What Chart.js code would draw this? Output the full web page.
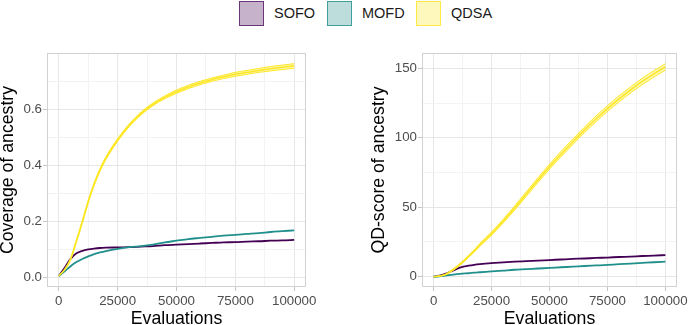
<!DOCTYPE html>
<html>
<head>
<meta charset="utf-8">
<script src="https://cdn.jsdelivr.net/npm/chart.js@4.4.0/dist/chart.umd.min.js"></script>
<style>
    body { margin: 0; width: 692px; height: 325px; overflow: hidden; background: #fff; position: relative; font-family: "Liberation Sans", Arial, sans-serif; }
    .key { position: absolute; top: 1px; width: 23px; height: 23px; border: 1.5px solid; }
    .lbl { position: absolute; top: 6px; font-size: 14.5px; line-height: 14.5px; color: #1a1a1a; }
    canvas { position: absolute; top: 40px; }
</style>
</head>
<body>
<div class="key" style="left:239px; background:rgba(68,1,84,0.3); border-color:rgba(68,1,84,0.7);"></div>
<div class="lbl" style="left:274px;">SOFO</div>
<div class="key" style="left:327px; background:rgba(33,144,140,0.3); border-color:rgba(33,144,140,0.8);"></div>
<div class="lbl" style="left:362px;">MOFD</div>
<div class="key" style="left:416px; background:rgba(253,231,37,0.3); border-color:rgba(253,231,37,0.8);"></div>
<div class="lbl" style="left:451px;">QDSA</div>

<canvas id="coverage_chart" width="346" height="285" style="left:0px;"></canvas>
<canvas id="qd_chart" width="346" height="285" style="left:346px;"></canvas>

<script>
    // x axis, shared by both panels
    var evaluations = [0, 2500, 5000, 7500, 10000, 12500, 15000, 17500, 20000, 25000, 30000, 35000, 40000, 45000, 50000, 55000, 60000, 65000, 70000, 75000, 80000, 85000, 90000, 95000, 100000];

    // Coverage of ancestry
    var coverage_sofo = [0.005, 0.035, 0.066, 0.086, 0.095, 0.100, 0.103, 0.105, 0.106, 0.107, 0.108, 0.110, 0.112, 0.115, 0.117, 0.119, 0.121, 0.123, 0.125, 0.126, 0.128, 0.129, 0.131, 0.132, 0.134];
    var coverage_mofd = [0.005, 0.022, 0.040, 0.055, 0.066, 0.075, 0.083, 0.089, 0.094, 0.102, 0.108, 0.112, 0.117, 0.125, 0.131, 0.137, 0.141, 0.145, 0.149, 0.152, 0.155, 0.158, 0.162, 0.165, 0.168];
    var coverage_qdsa = [0.005, 0.028, 0.065, 0.130, 0.198, 0.270, 0.332, 0.383, 0.425, 0.490, 0.543, 0.585, 0.617, 0.642, 0.662, 0.679, 0.693, 0.705, 0.715, 0.724, 0.731, 0.738, 0.744, 0.749, 0.754];
    var coverage_qdsa_high = [0.005, 0.030, 0.068, 0.134, 0.203, 0.275, 0.337, 0.388, 0.430, 0.495, 0.548, 0.590, 0.622, 0.647, 0.668, 0.685, 0.699, 0.711, 0.721, 0.731, 0.738, 0.745, 0.752, 0.757, 0.762];
    var coverage_qdsa_low = [0.005, 0.026, 0.062, 0.126, 0.193, 0.265, 0.327, 0.378, 0.420, 0.485, 0.538, 0.580, 0.612, 0.637, 0.656, 0.673, 0.687, 0.699, 0.709, 0.717, 0.724, 0.731, 0.736, 0.741, 0.746];

    // QD-score of ancestry
    var qd_sofo = [0, 0.7, 2, 3.8, 5.6, 7, 7.9, 8.6, 9.1, 9.8, 10.3, 10.8, 11.2, 11.6, 12, 12.4, 12.8, 13.1, 13.5, 13.8, 14.2, 14.5, 14.9, 15.2, 15.6];
    var qd_mofd = [0, 0.3, 0.8, 1.3, 1.8, 2.2, 2.5, 2.9, 3.2, 3.8, 4.4, 5, 5.4, 5.9, 6.3, 6.8, 7.2, 7.7, 8.1, 8.5, 9, 9.4, 9.9, 10.4, 10.8];
    var qd_qdsa = [0, 0.5, 1.5, 4, 7, 10.5, 14.5, 18.5, 23, 31, 40, 49.5, 59.5, 69.5, 79.2, 88.3, 97, 105.5, 113.5, 121, 128, 134.5, 140.5, 146, 151];
    var qd_qdsa_high = [0, 0.6, 1.8, 4.5, 7.6, 11.2, 15.3, 19.4, 24, 32.2, 41.3, 51, 61.1, 71.2, 81, 90.2, 99, 107.5, 115.6, 123.1, 130.2, 136.7, 142.8, 148.3, 153.3];
    var qd_qdsa_low = [0, 0.4, 1.2, 3.5, 6.4, 9.8, 13.7, 17.6, 22, 29.8, 38.7, 48, 57.9, 67.8, 77.4, 86.4, 95, 103.5, 111.4, 118.9, 125.8, 132.3, 138.2, 143.7, 148.7];

    // tick labels
    var x_ticks = [0, 25000, 50000, 75000, 100000];
    var coverage_ticks = [0, 0.2, 0.4, 0.6];
    var qd_ticks = [0, 50, 100, 150];

    var PURPLE = '#440154';
    var TEAL = '#21908C';
    var YELLOW = '#FDE725';
    var FONT = "'Liberation Sans', Arial, sans-serif";

    function points(values) {
        return values.map(function(v, i) {
            return { x: evaluations[i], y: v };
        });
    }

    // major ticks plus a minor one half way (ggplot style minor grid)
    function gridTicks(major, max) {
        var list = [];
        for (var i = 0; i < major.length; i++) {
            list.push({ value: major[i] });
            var next = i + 1 < major.length ? major[i + 1] : major[i] + (major[i] - major[i - 1]);
            var mid = (major[i] + next) / 2;
            if (mid <= max) list.push({ value: mid, minor: true });
        }
        return list;
    }

    var panelBorder = {
        id: 'panelBorder',
        afterDatasetsDraw: function(chart) {
            var a = chart.chartArea;
            var ctx = chart.ctx;
            ctx.save();
            ctx.strokeStyle = '#d2d2d2';
            ctx.lineWidth = 1;
            ctx.strokeRect(Math.round(a.left) + 0.5, Math.round(a.top) + 0.5, Math.round(a.right - a.left) - 1, Math.round(a.bottom - a.top) - 1);
            ctx.restore();
        }
    };

    function axis(major, min, max, fmt, title, fitSize, isX, titlePad) {
        return {
            type: 'linear',
            min: min,
            max: max,
            afterBuildTicks: function(scale) {
                scale.ticks = gridTicks(major, max);
            },
            afterFit: function(scale) {
                if (isX) scale.height = fitSize; else scale.width = fitSize;
            },
            border: { display: false },
            grid: {
                color: function(ctx) { return ctx.tick && ctx.tick.minor ? '#f3f3f3' : '#e6e6e6'; },
                lineWidth: 1,
                tickLength: 4,
                tickColor: function(ctx) { return ctx.tick && ctx.tick.minor ? 'rgba(0,0,0,0)' : '#c4c4c4'; }
            },
            ticks: {
                autoSkip: false,
                maxRotation: 0,
                padding: isX ? 2 : 1,
                color: '#4d4d4d',
                font: { family: FONT, size: 13.3 },
                callback: function(value, index, ticks) {
                    return ticks[index].minor ? '' : fmt(value);
                }
            },
            title: {
                display: true,
                text: title,
                color: '#000',
                font: { family: FONT, size: 17.7, lineHeight: isX ? 0.72 : 0.9 },
                padding: titlePad
            }
        };
    }

    function datasets(sofo, mofd, qdsa, qdsa_low, qdsa_high) {
        return [{
            label: 'QDSA upper',
            data: points(qdsa_high),
            borderColor: YELLOW,
            borderWidth: 1,
            backgroundColor: 'rgba(253,231,37,0.35)',
            fill: '+1'
        }, {
            label: 'QDSA lower',
            data: points(qdsa_low),
            borderColor: YELLOW,
            borderWidth: 1,
            fill: false
        }, {
            label: 'QDSA',
            data: points(qdsa),
            borderColor: YELLOW,
            borderWidth: 1.5,
            fill: false
        }, {
            label: 'MOFD',
            data: points(mofd),
            borderColor: TEAL,
            borderWidth: 1.8,
            fill: false
        }, {
            label: 'SOFO',
            data: points(sofo),
            borderColor: PURPLE,
            borderWidth: 1.8,
            fill: false
        }];
    }

    var common = {
        responsive: false,
        animation: false,
        elements: {
            point: { radius: 0 },
            line: { cubicInterpolationMode: 'monotone' }
        },
        plugins: {
            legend: { display: false },
            tooltip: { enabled: false }
        }
    };

    // Coverage of ancestry (left)
    var coverage_ctx = document.getElementById('coverage_chart').getContext('2d');
    new Chart(coverage_ctx, {
        type: 'line',
        data: { datasets: datasets(coverage_sofo, coverage_mofd, coverage_qdsa, coverage_qdsa_low, coverage_qdsa_high) },
        options: Object.assign({}, common, {
            layout: { padding: { top: 13, right: 40, left: 0, bottom: 0 } },
            scales: {
                x: axis(x_ticks, -5000, 105000, function(v) { return String(v); }, 'Evaluations', 38, true, { top: 0, bottom: 0 }),
                y: axis(coverage_ticks, -0.034, 0.8, function(v) { return v.toFixed(1); }, 'Coverage of ancestry', 47, false, { top: 0, bottom: 0 })
            }
        }),
        plugins: [panelBorder]
    });

    // QD-score of ancestry (right)
    var qd_ctx = document.getElementById('qd_chart').getContext('2d');
    new Chart(qd_ctx, {
        type: 'line',
        data: { datasets: datasets(qd_sofo, qd_mofd, qd_qdsa, qd_qdsa_low, qd_qdsa_high) },
        options: Object.assign({}, common, {
            layout: { padding: { top: 13, right: 15, left: 0, bottom: 0 } },
            scales: {
                x: axis(x_ticks, -5000, 105000, function(v) { return String(v); }, 'Evaluations', 38, true, { top: 0, bottom: 0 }),
                y: axis(qd_ticks, -7.4, 161, function(v) { return String(v); }, 'QD-score of ancestry', 76, false, { top: 25, bottom: 0 })
            }
        }),
        plugins: [panelBorder]
    });
</script>
</body>
</html>
